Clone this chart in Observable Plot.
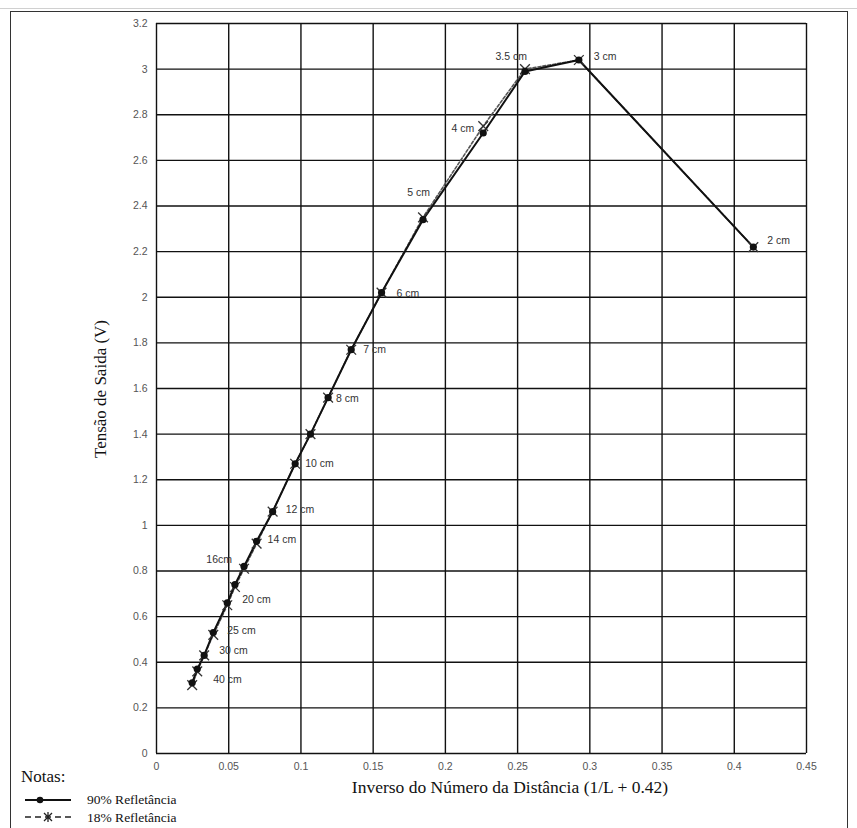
<!DOCTYPE html>
<html><head><meta charset="utf-8">
<script src="https://cdn.jsdelivr.net/npm/d3@7"></script>
<script src="https://cdn.jsdelivr.net/npm/@observablehq/plot@0.6"></script>
<style>
body{margin:0;background:#fff;}
#wrap{position:relative;width:857px;height:828px;overflow:hidden;background:#fff;}
#topline{position:absolute;left:0;top:8px;width:857px;height:1px;background:#d0d0d0;}
#frame{position:absolute;left:10px;top:11px;width:838px;height:860px;border:1.5px solid #333;box-sizing:border-box;}
#chart{position:absolute;left:0;top:0;}
.serif{font-family:"Liberation Serif","DejaVu Serif",serif;color:#111;position:absolute;white-space:nowrap;line-height:1;}
#legsvg{position:absolute;left:0;top:788px;}
</style></head>
<body>
<div id="wrap">
  <div id="topline"></div>
  <div id="frame"></div>
  <div id="chart"></div>
  <div class="serif" style="left:100px;top:389px;font-size:17px;transform:translate(-50%,-50%) rotate(-90deg);">Tensão de Saida (V)</div>
  <div class="serif" style="left:510px;top:788px;font-size:17.5px;transform:translate(-50%,-50%);">Inverso do Número da Distância (1/L + 0.42)</div>
  <div class="serif" style="left:21px;top:768px;font-size:17px;">Notas:</div>
  <div class="serif" style="left:87px;top:793px;font-size:13.5px;">90% Refletância</div>
  <div class="serif" style="left:87px;top:811px;font-size:13.5px;">18% Refletância</div>
  <svg id="legsvg" width="90" height="40"></svg>
</div>
<script>
// Distances (cm) of each measured point
const distances = [40, 35, 30, 25, 20, 18, 16, 14, 12, 10, 9, 8, 7, 6, 5, 4, 3.5, 3, 2];
// Inverse distance number (x)
const inverseX = [0.0247, 0.0282, 0.0330, 0.0393, 0.0490, 0.0543, 0.0606, 0.0693, 0.0804, 0.0960, 0.1066, 0.1188, 0.1348, 0.1558, 0.1845, 0.2262, 0.2551, 0.2924, 0.4132];
// Output voltage, 90% reflectance
const volts90 = [0.31, 0.37, 0.43, 0.53, 0.66, 0.74, 0.82, 0.93, 1.06, 1.27, 1.40, 1.56, 1.77, 2.02, 2.34, 2.72, 2.99, 3.04, 2.22];
// Output voltage, 18% reflectance
const volts18 = [0.30, 0.36, 0.43, 0.52, 0.65, 0.73, 0.81, 0.92, 1.06, 1.27, 1.40, 1.56, 1.77, 2.02, 2.35, 2.75, 3.00, 3.04, 2.22];
// Point labels
const pointLabels = [
  {d: 2, text: "2 cm"}, {d: 3, text: "3 cm"}, {d: 3.5, text: "3.5 cm"}, {d: 4, text: "4 cm"},
  {d: 5, text: "5 cm"}, {d: 6, text: "6 cm"}, {d: 7, text: "7 cm"}, {d: 8, text: "8 cm"},
  {d: 10, text: "10 cm"}, {d: 12, text: "12 cm"}, {d: 14, text: "14 cm"}, {d: 16, text: "16cm"},
  {d: 20, text: "20 cm"}, {d: 25, text: "25 cm"}, {d: 30, text: "30 cm"}, {d: 40, text: "40 cm"}
];
// Axis ticks
const xTicks = [0, 0.05, 0.1, 0.15, 0.2, 0.25, 0.3, 0.35, 0.4, 0.45];
const xTickLabels = ["0", "0.05", "0.1", "0.15", "0.2", "0.25", "0.3", "0.35", "0.4", "0.45"];
const yTicks = [0, 0.2, 0.4, 0.6, 0.8, 1, 1.2, 1.4, 1.6, 1.8, 2, 2.2, 2.4, 2.6, 2.8, 3, 3.2];
const yTickLabels = ["0", "0.2", "0.4", "0.6", "0.8", "1", "1.2", "1.4", "1.6", "1.8", "2", "2.2", "2.4", "2.6", "2.8", "3", "3.2"];

const data90 = distances.map((d, i) => ({d, x: inverseX[i], y: volts90[i]}));
const data18 = distances.map((d, i) => ({d, x: inverseX[i], y: volts18[i]}));

// label offsets (style, not data)
const labelStyle = {
  2: {dx: 14, dy: -6, a: "start"}, 3: {dx: 15, dy: -3, a: "start"}, 3.5: {dx: 2, dy: -15, a: "end"},
  4: {dx: -9, dy: -4, a: "end"}, 5: {dx: 7, dy: -27, a: "end"}, 6: {dx: 15, dy: 1, a: "start"},
  7: {dx: 12, dy: 0, a: "start"}, 8: {dx: 8, dy: 1, a: "start"}, 10: {dx: 10, dy: 0, a: "start"},
  12: {dx: 13, dy: -2, a: "start"}, 14: {dx: 11, dy: -2, a: "start"}, 16: {dx: -12, dy: -7, a: "end"},
  20: {dx: 15, dy: -3, a: "start"}, 25: {dx: 14, dy: -2, a: "start"}, 30: {dx: 15, dy: -5, a: "start"},
  40: {dx: 21, dy: -3, a: "start"}
};

const labelMarks = pointLabels.map(l => {
  const p = data90.find(q => q.d === l.d);
  const s = labelStyle[l.d];
  return Plot.text([{...p, t: l.text}], {x: "x", y: "y", text: "t", dx: s.dx, dy: s.dy, textAnchor: s.a,
    fontSize: 10.5, fill: "#333", fontFamily: "Liberation Sans, Arial, sans-serif"});
});

const chart = Plot.plot({
  width: 857,
  height: 790,
  marginLeft: 156,
  marginRight: 51,
  marginTop: 23,
  marginBottom: 37,
  style: {fontFamily: "Liberation Sans, Arial, sans-serif", background: "transparent", overflow: "visible"},
  x: {domain: [0, 0.45]},
  y: {domain: [0, 3.2]},
  marks: [
    Plot.gridX(xTicks, {stroke: "#111", strokeOpacity: 1, strokeWidth: 1.4}),
    Plot.gridY(yTicks, {stroke: "#111", strokeOpacity: 1, strokeWidth: 1.4}),
    Plot.axisX(xTicks, {tickSize: 0, tickPadding: 9, tickFormat: (d, i) => xTickLabels[xTicks.indexOf(d)], fontSize: 10.5, fill: "#555", label: null}),
    Plot.axisY(yTicks, {tickSize: 0, tickPadding: 9, tickFormat: (d) => yTickLabels[yTicks.indexOf(d)], fontSize: 10.5, fill: "#555", label: null}),
    Plot.line(data18, {x: "x", y: "y", stroke: "#555", strokeWidth: 1.6, strokeDasharray: "3,2"}),
    Plot.line(data90, {x: "x", y: "y", stroke: "#111", strokeWidth: 2}),
    Plot.dot(data18, {x: "x", y: "y", symbol: "times", r: 4.5, stroke: "#333", strokeWidth: 1.3}),
    Plot.dot(data90, {x: "x", y: "y", r: 3.6, fill: "#111"}),
    ...labelMarks
  ]
});
document.getElementById("chart").appendChild(chart);

// legend samples
const leg = d3.select("#legsvg");
leg.append("line").attr("x1", 25).attr("x2", 71).attr("y1", 12).attr("y2", 12).attr("stroke", "#111").attr("stroke-width", 2);
leg.append("circle").attr("cx", 40).attr("cy", 12).attr("r", 3.3).attr("fill", "#111");
leg.append("line").attr("x1", 25).attr("x2", 72).attr("y1", 29).attr("y2", 29).attr("stroke", "#222").attr("stroke-width", 1.6).attr("stroke-dasharray", "6,4");
leg.append("path").attr("d", "M44,25L52,33M52,25L44,33M48,24L48,34").attr("stroke", "#222").attr("stroke-width", 1.3);
</script>
</body></html>
